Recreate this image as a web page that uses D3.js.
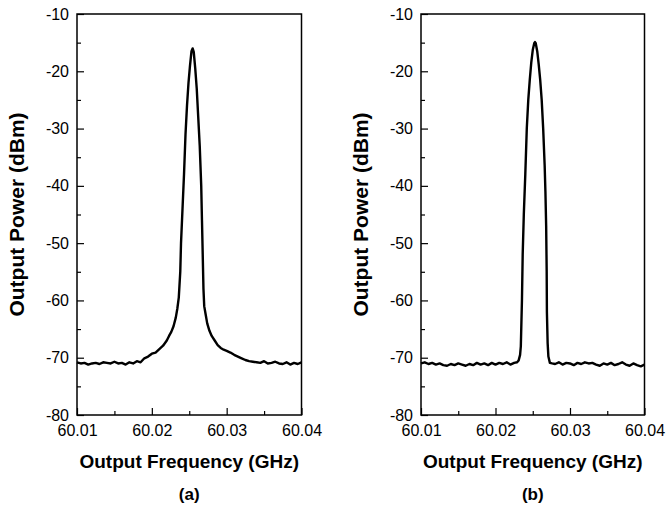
<!DOCTYPE html>
<html>
<head>
<meta charset="utf-8">
<script src="https://cdn.jsdelivr.net/npm/d3@7"></script>
<style>
    body { margin: 0; background: #fff; }
    svg { display: block; font-family: "Liberation Sans", Arial, sans-serif; }
</style>
</head>
<body>
<svg id="chart"></svg>
<script>
// tick values
const freqTicks = [60.01, 60.02, 60.03, 60.04];
const freqMinor = [60.015, 60.025, 60.035];
const powerTicks = [-80, -70, -60, -50, -40, -30, -20, -10];
const powerMinor = [-75, -65, -55, -45, -35, -25, -15];

// spectrum (a): [frequency GHz, power dBm]
const spectrumA = [
    [60.0100, -70.8], [60.0105, -71.0], [60.0110, -70.9], [60.0115, -71.2], [60.0120, -71.0],
    [60.0125, -70.9], [60.0130, -71.1], [60.0135, -70.8], [60.0140, -70.9], [60.0145, -71.0],
    [60.0150, -70.7], [60.0155, -71.0], [60.0160, -70.9], [60.0165, -71.2], [60.0170, -70.8],
    [60.0175, -71.0], [60.0180, -70.6], [60.0185, -70.8], [60.0190, -70.1], [60.0195, -69.8],
    [60.0200, -69.3], [60.0205, -69.1], [60.0210, -68.5], [60.0215, -67.9], [60.0220, -67.0],
    [60.0223, -66.2], [60.0226, -65.5], [60.0229, -64.5], [60.0232, -63.0], [60.0234, -61.5],
    [60.0236, -59.5], [60.0238, -55.0], [60.0239, -50.0], [60.0241, -44.0], [60.0243, -38.0],
    [60.0245, -31.0], [60.0247, -26.0], [60.0249, -22.0], [60.0251, -19.0], [60.0253, -16.5],
    [60.02545, -16.0], [60.0256, -16.6], [60.0258, -19.5], [60.0260, -23.0], [60.0262, -28.0],
    [60.0264, -33.0], [60.0266, -40.0], [60.0267, -46.0], [60.0268, -52.0], [60.0269, -58.0],
    [60.0270, -61.0], [60.0272, -62.5], [60.0274, -64.0], [60.0277, -65.3], [60.0280, -66.2],
    [60.0284, -67.0], [60.0288, -67.8], [60.0292, -68.3], [60.0296, -68.6], [60.0300, -68.8],
    [60.0305, -69.1], [60.0310, -69.5], [60.0315, -69.8], [60.0320, -70.1], [60.0325, -70.4],
    [60.0330, -70.6], [60.0335, -70.7], [60.0340, -70.8], [60.0345, -70.9], [60.0350, -70.6],
    [60.0355, -71.0], [60.0360, -70.9], [60.0365, -70.7], [60.0370, -71.0], [60.0375, -71.1],
    [60.0380, -70.8], [60.0385, -71.2], [60.0390, -70.9], [60.0395, -71.1], [60.0400, -70.8]
];

// spectrum (b)
const spectrumB = [
    [60.0100, -71.0], [60.0105, -70.8], [60.0110, -71.1], [60.0115, -70.9], [60.0120, -71.2],
    [60.0125, -71.0], [60.0130, -71.3], [60.0135, -71.4], [60.0140, -71.1], [60.0145, -71.3],
    [60.0150, -71.0], [60.0155, -71.2], [60.0160, -71.4], [60.0165, -71.1], [60.0170, -71.3],
    [60.0175, -70.9], [60.0180, -71.2], [60.0185, -71.0], [60.0190, -71.3], [60.0195, -70.9],
    [60.0200, -71.2], [60.0205, -70.9], [60.0210, -71.1], [60.0215, -70.8], [60.0220, -71.2],
    [60.0225, -70.9], [60.0229, -70.8], [60.0231, -70.5], [60.0233, -69.5], [60.0234, -68.0],
    [60.02355, -60.0], [60.02365, -52.0], [60.0238, -45.0], [60.0240, -38.0], [60.0242, -30.0],
    [60.0244, -25.0], [60.0246, -21.5], [60.0248, -18.5], [60.0250, -16.3], [60.0252, -15.1],
    [60.0253, -14.9], [60.0254, -15.1], [60.0256, -16.5], [60.0258, -18.8], [60.0260, -21.5],
    [60.0262, -25.0], [60.0264, -30.0], [60.0266, -36.5], [60.0267, -41.0], [60.0268, -47.0],
    [60.02687, -55.0], [60.0269, -62.0], [60.0270, -67.5], [60.0271, -69.8], [60.0273, -70.9],
    [60.0276, -71.0], [60.0280, -71.1], [60.0285, -70.8], [60.0290, -71.2], [60.0295, -70.9],
    [60.0300, -71.0], [60.0305, -71.3], [60.0310, -70.9], [60.0315, -71.1], [60.0320, -70.8],
    [60.0325, -71.0], [60.0330, -70.9], [60.0335, -71.2], [60.0340, -71.4], [60.0345, -71.0],
    [60.0350, -71.2], [60.0355, -70.9], [60.0360, -71.3], [60.0365, -71.1], [60.0370, -70.8],
    [60.0375, -71.2], [60.0380, -71.4], [60.0385, -71.0], [60.0390, -71.3], [60.0395, -71.5],
    [60.0400, -71.2]
];

const width = 666;
const height = 510;
const plotTop = 14;
const plotBottom = 415;

let svg = d3.select("#chart").attr("width", width).attr("height", height);

function drawPanel(data, left, right, label) {
    let x = d3.scaleLinear().domain([60.01, 60.04]).range([left, right]);
    let y = d3.scaleLinear().domain([-80, -10]).range([plotBottom, plotTop]);
    let g = svg.append("g");

    // minor ticks
    g.append("g")
        .attr("transform", `translate(0, ${plotBottom})`)
        .call(d3.axisBottom(x).tickValues(freqMinor).tickSize(-4).tickFormat(""))
        .call(a => a.select(".domain").remove());
    g.append("g")
        .attr("transform", `translate(${left}, 0)`)
        .call(d3.axisLeft(y).tickValues(powerMinor).tickSize(-4).tickFormat(""))
        .call(a => a.select(".domain").remove());

    // major ticks
    let ax = g.append("g")
        .attr("transform", `translate(0, ${plotBottom})`)
        .call(d3.axisBottom(x).tickValues(freqTicks).tickSize(-7).tickPadding(10).tickFormat(d3.format(".2f")));
    ax.select(".domain").remove();
    ax.selectAll("text").attr("font-size", 16).attr("fill", "#000");

    let ay = g.append("g")
        .attr("transform", `translate(${left}, 0)`)
        .call(d3.axisLeft(y).tickValues(powerTicks).tickSize(-7).tickPadding(8).tickFormat(d => d));
    ay.select(".domain").remove();
    ay.selectAll("text").attr("font-size", 16).attr("fill", "#000");

    g.selectAll("g").attr("font-family", null).attr("font-size", null);
    g.selectAll(".tick line").attr("stroke", "#000").attr("stroke-width", 1.2);

    // frame
    g.append("rect")
        .attr("x", left).attr("y", plotTop)
        .attr("width", right - left).attr("height", plotBottom - plotTop)
        .attr("fill", "none").attr("stroke", "#000").attr("stroke-width", 1.5);

    // spectrum trace
    let line = d3.line().x(d => x(d[0])).y(d => y(d[1]));
    g.append("path")
        .datum(data)
        .attr("d", line)
        .attr("fill", "none")
        .attr("stroke", "#000")
        .attr("stroke-width", 2.4)
        .attr("stroke-linejoin", "round");

    // axis titles
    g.append("text")
        .attr("x", (left + right) / 2).attr("y", 468)
        .attr("text-anchor", "middle")
        .attr("font-size", 19).attr("font-weight", "bold")
        .text("Output Frequency (GHz)");
    g.append("text")
        .attr("transform", `translate(${left - 53}, ${(plotTop + plotBottom) / 2}) rotate(-90)`)
        .attr("text-anchor", "middle")
        .attr("font-size", 21).attr("font-weight", "bold")
        .text("Output Power (dBm)");

    g.append("text")
        .attr("x", (left + right) / 2).attr("y", 500)
        .attr("text-anchor", "middle")
        .attr("font-size", 17).attr("font-weight", "bold")
        .text(label);
}

drawPanel(spectrumA, 77, 301.5, "(a)");
drawPanel(spectrumB, 421, 644.5, "(b)");
</script>
</body>
</html>
